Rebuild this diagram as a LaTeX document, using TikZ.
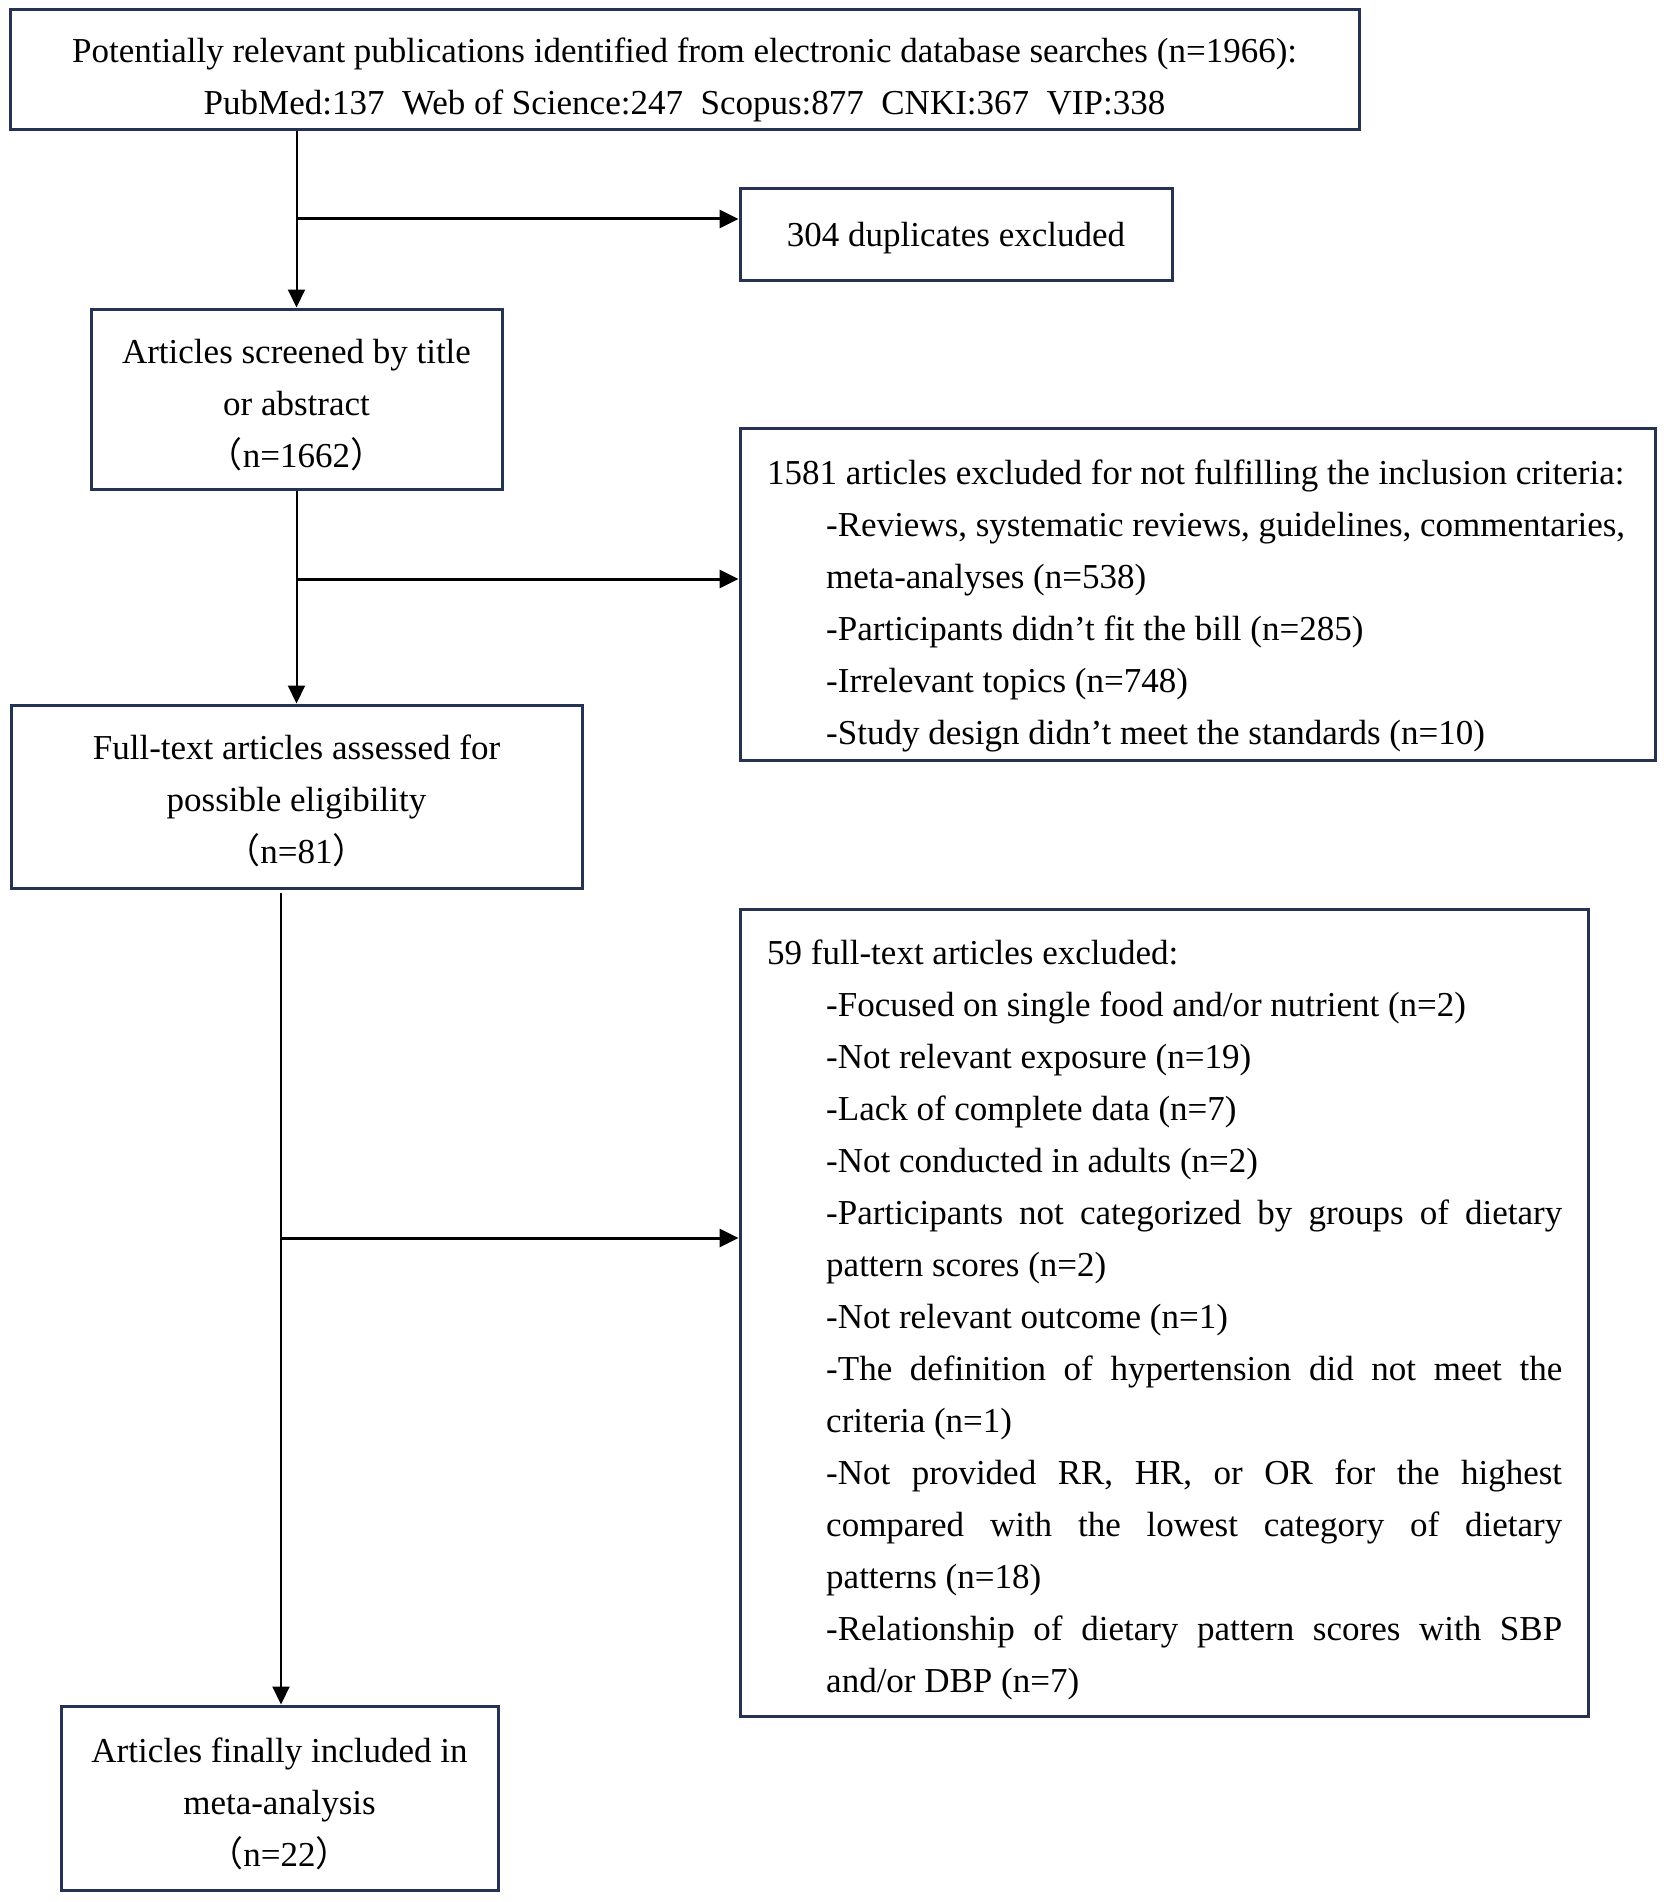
\documentclass[tikz,border=0pt]{standalone}
\usepackage{fontspec}
\setmainfont{Liberation Serif}
\newfontfamily\cjk{Noto Sans CJK SC}
\usetikzlibrary{arrows.meta}
\definecolor{boxline}{RGB}{38,50,82}
\newcommand{\lpar}{{\cjk （}}
\newcommand{\rpar}{{\cjk ）}}
\newcommand{\ind}{\hspace*{59pt}}
\newcommand{\jst}[1]{\hspace*{59pt}\makebox[736pt][s]{#1}}
\begin{document}
\begin{tikzpicture}[x=1pt,y=-1pt,
  frame/.style={draw=boxline,line width=3pt,rectangle,inner sep=0pt},
  txt/.style={inner sep=0pt,font=\fontsize{35}{52}\selectfont},
  conn/.style={line width=2pt,-{Triangle[length=18pt,width=17pt]}},
  branch/.style={line width=3pt,-{Triangle[length=19pt,width=18pt]}}]
\useasboundingbox (0,0) rectangle (1666,1902);
\fill[white] (0,0) rectangle (1666,1902);

% frames
\node[frame,minimum width=1349pt,minimum height=120pt] (n1) at (684.5,70) {};
\node[frame,minimum width=432pt,minimum height=91pt] (dup) at (956,234.5) {};
\node[frame,minimum width=411pt,minimum height=180pt] (n2) at (296.5,399) {};
\node[frame,minimum width=915pt,minimum height=332pt] (ex2) at (1197.5,594) {};
\node[frame,minimum width=571pt,minimum height=183pt] (n3) at (296.5,796.5) {};
\node[frame,minimum width=848pt,minimum height=807pt] (ex3) at (1164,1312.5) {};
\node[frame,minimum width=437pt,minimum height=184pt] (n4) at (279.5,1798) {};

% texts
\node[txt,align=center] (t1) at ([yshift=-10pt]n1.center)
  {Potentially relevant publications identified from electronic database searches (n=1966):\\
   PubMed:137\ \ Web of Science:247\ \ Scopus:877\ \ CNKI:367\ \ VIP:338};
\node[txt] (tdup) at ([yshift=-4pt]dup.center) {304 duplicates excluded};
\node[txt,align=center] (t2) at ([yshift=-6pt]n2.center)
  {Articles screened by title\\or abstract\\\lpar n=1662\rpar};
\node[txt,align=left,anchor=west] (tex2) at ([yshift=-12pt]ex2.center -| 767,0)
  {1581 articles excluded for not fulfilling the inclusion criteria:\\
   \ind -Reviews, systematic reviews, guidelines, commentaries,\\
   \ind meta-analyses (n=538)\\
   \ind -Participants didn't fit the bill (n=285)\\
   \ind -Irrelevant topics (n=748)\\
   \ind -Study design didn't meet the standards (n=10)};
\node[txt,align=center] (t3) at ([yshift=-4pt]n3.center)
  {Full-text articles assessed for\\possible eligibility\\\lpar n=81\rpar};
\node[txt,align=left,anchor=west] (tex3) at ([yshift=-7pt]ex3.center -| 767,0)
  {59 full-text articles excluded:\\
   \ind -Focused on single food and/or nutrient (n=2)\\
   \ind -Not relevant exposure (n=19)\\
   \ind -Lack of complete data (n=7)\\
   \ind -Not conducted in adults (n=2)\\
   \jst{-Participants not categorized by groups of dietary}\\
   \ind pattern scores (n=2)\\
   \ind -Not relevant outcome (n=1)\\
   \jst{-The definition of hypertension did not meet the}\\
   \ind criteria (n=1)\\
   \jst{-Not provided RR, HR, or OR for the highest}\\
   \jst{compared with the lowest category of dietary}\\
   \ind patterns (n=18)\\
   \jst{-Relationship of dietary pattern scores with SBP}\\
   \ind and/or DBP (n=7)};
\node[txt,align=center] (t4) at ([yshift=-6pt]n4.center)
  {Articles finally included in\\meta-analysis\\\lpar n=22\rpar};

% connectors
\coordinate (b1) at (297,219);
\coordinate (b2) at (297,579);
\coordinate (v3) at (281,893);
\coordinate (b3) at (281,1238);

\draw[conn] (n2.north |- n1.south) -- (n2.north);
\draw[branch] (b1) -- (b1 -| dup.west);
\draw[conn] (n2.south) -- (n3.north);
\draw[branch] (b2) -- (b2 -| ex2.west);
\draw[conn] (v3) -- (v3 |- n4.north);
\draw[branch] (b3) -- (b3 -| ex3.west);
\end{tikzpicture}
\end{document}
